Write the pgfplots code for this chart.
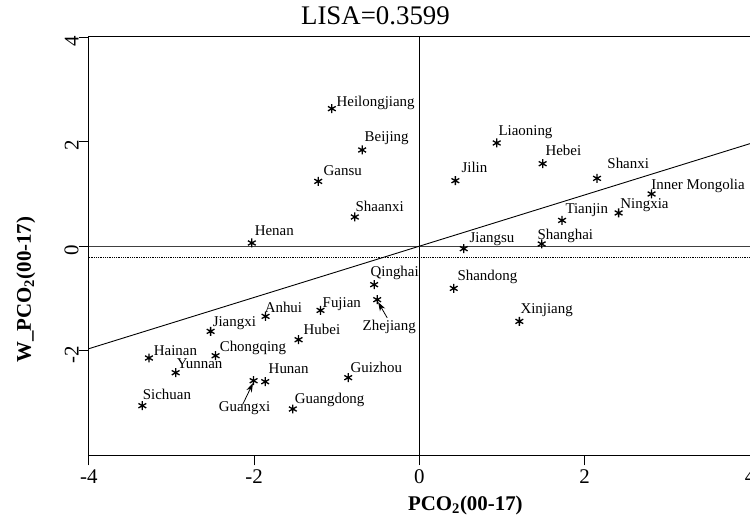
\documentclass[border=0pt]{standalone}
\usepackage{fontspec}
\setmainfont{Liberation Serif}
\usepackage{pgfplots}
\pgfplotsset{compat=1.18}
\usetikzlibrary{arrows.meta}
\tikzset{lbl/.style={anchor=base west, inner sep=0pt, font=\fontsize{15}{18}\selectfont}}
\begin{document}
\begin{tikzpicture}
\begin{axis}[
  width=662bp, height=419bp, scale only axis,
  xmin=-4, xmax=4, ymin=-4, ymax=4,
  xtick={-4,-2,0,2,4}, xticklabels={-4,-2,0,2,4},
  ytick={-2,0,2,4}, yticklabels={-2,0,2,4},
  tick align=outside, tick pos=left, major tick length=10bp,
  tick style={black, line width=0.8bp},
  axis line style={line width=1bp},
  xticklabel style={font=\fontsize{21}{25}\selectfont, anchor=north, inner sep=0pt, yshift=-4bp},
  yticklabel style={font=\fontsize{21}{25}\selectfont, rotate=90, anchor=south, inner sep=0pt, xshift=-4bp},
  title={LISA=0.3599},
  title style={at={(axis description cs:0.4335,1.0143)}, anchor=base, font=\fontsize{27}{31}\selectfont, inner sep=0pt},
  xlabel={\textbf{PCO\textsubscript{2}(00-17)}},
  ylabel={\textbf{W\_PCO\textsubscript{2}(00-17)}},
  every axis x label/.style={at={(axis description cs:0.5695,-0.1313)}, anchor=base, font=\fontsize{21}{25}\selectfont, inner sep=0pt},
  every axis y label/.style={at={(axis description cs:-0.0876,0.396)}, rotate=90, anchor=base, font=\fontsize{21}{25}\selectfont, inner sep=0pt},
  clip=false,
]
% zero lines
\addplot[black, line width=0.7bp] coordinates {(0,-4) (0,4)};
\addplot[black!75, line width=1bp] coordinates {(-4,0) (4,0)};
\addplot[black, line width=0.8bp, densely dotted] coordinates {(-4,-0.22) (4,-0.22)};
% regression line
\addplot[black, line width=0.9bp] coordinates {(-4,-1.96) (4,1.96)};
% provinces
\addplot[only marks, mark=asterisk, mark size=4.5bp, mark options={black, line width=1.3bp}] table {
x y
-1.060 2.629
-0.693 1.839
-1.225 1.239
-0.782 0.558
-2.028 0.061
0.935 1.973
1.491 1.577
0.435 1.252
2.149 1.296
2.809 0.998
2.410 0.635
1.726 0.493
0.536 -0.048
1.479 0.042
0.415 -0.807
1.209 -1.438
-0.548 -0.736
-0.511 -1.023
-1.197 -1.228
-1.862 -1.342
-2.527 -1.629
-1.463 -1.788
-2.467 -2.094
-3.273 -2.138
-2.950 -2.419
-2.007 -2.572
-1.866 -2.591
-0.862 -2.514
-1.532 -3.113
-3.353 -3.050
};
\node[lbl] at (axis cs:-1.004,2.667) {Heilongjiang};
\node[lbl] at (axis cs:-0.665,1.998) {Beijing};
\node[lbl] at (axis cs:-1.161,1.348) {Gansu};
\node[lbl] at (axis cs:-0.774,0.660) {Shaanxi};
\node[lbl] at (axis cs:-1.995,0.201) {Henan};
\node[lbl] at (axis cs:0.955,2.113) {Liaoning};
\node[lbl] at (axis cs:1.524,1.730) {Hebei};
\node[lbl] at (axis cs:0.508,1.405) {Jilin};
\node[lbl] at (axis cs:2.273,1.482) {Shanxi};
\node[lbl] at (axis cs:2.805,1.080) {Inner Mongolia};
\node[lbl] at (axis cs:2.430,0.717) {Ningxia};
\node[lbl] at (axis cs:1.765,0.621) {Tianjin};
\node[lbl] at (axis cs:0.605,0.067) {Jiangsu};
\node[lbl] at (axis cs:1.427,0.124) {Shanghai};
\node[lbl] at (axis cs:0.459,-0.659) {Shandong};
\node[lbl] at (axis cs:1.221,-1.291) {Xinjiang};
\node[lbl] at (axis cs:-0.593,-0.583) {Qinghai};
\node[lbl] at (axis cs:-1.173,-1.176) {Fujian};
\node[lbl] at (axis cs:-1.874,-1.272) {Anhui};
\node[lbl] at (axis cs:-2.503,-1.539) {Jiangxi};
\node[lbl] at (axis cs:-1.403,-1.692) {Hubei};
\node[lbl] at (axis cs:-2.418,-2.017) {Chongqing};
\node[lbl] at (axis cs:-3.216,-2.094) {Hainan};
\node[lbl] at (axis cs:-2.938,-2.342) {Yunnan};
\node[lbl] at (axis cs:-1.826,-2.438) {Hunan};
\node[lbl] at (axis cs:-0.834,-2.419) {Guizhou};
\node[lbl] at (axis cs:-1.511,-3.011) {Guangdong};
\node[lbl] at (axis cs:-3.349,-2.935) {Sichuan};
\node[lbl] at (axis cs:-0.689,-1.616) {Zhejiang};
\node[lbl] at (axis cs:-2.430,-3.164) {Guangxi};
\draw[black, line width=0.8bp, -{Stealth[length=9bp, width=6bp]}] (axis cs:-0.39,-1.37) -- (axis cs:-0.50,-1.07);
\draw[black, line width=0.8bp, -{Stealth[length=9bp, width=6bp]}] (axis cs:-2.14,-3.03) -- (axis cs:-2.015,-2.62);
\end{axis}
\pgfresetboundingbox
\path[use as bounding box] ([xshift=-89bp,yshift=-61bp]current axis.south west) rectangle ([yshift=37bp]current axis.north east);
\end{tikzpicture}
\end{document}
